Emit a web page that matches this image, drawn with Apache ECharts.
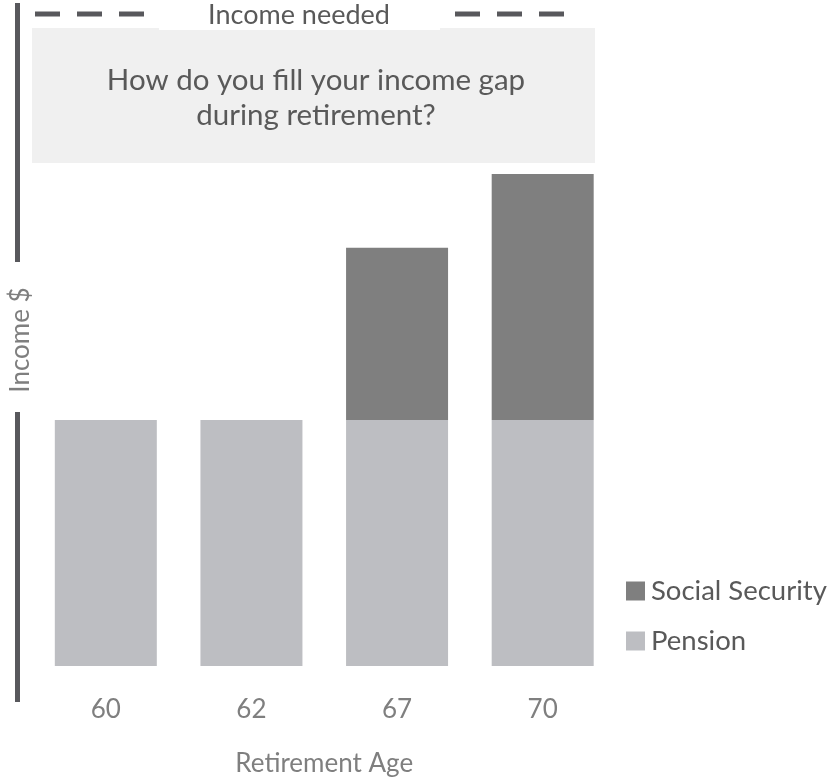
<!DOCTYPE html>
<html>
<head>
<meta charset="utf-8">
<script src="https://cdn.jsdelivr.net/npm/echarts@6/dist/echarts.min.js"></script>
<style>
html,body{margin:0;padding:0;background:#fff;}
#chart{width:837px;height:782px;}
</style>
</head>
<body>
<div id="chart"></div>
<script>
const categories = ['60', '62', '67', '70'];
const pension = [50, 50, 50, 50];
const socialSecurity = [0, 0, 35, 50];
const incomeNeeded = 132.5;
const titleText = 'How do you fill your income gap\nduring retirement?';
const neededLabel = 'Income needed';

const FONT = 'Lato';
const chart = echarts.init(document.getElementById('chart'), null, {renderer: 'canvas'});

const option = {
  animation: false,
  textStyle: {fontFamily: FONT},
  grid: {left: 17.5, right: 221.5, top: 14, bottom: 113, containLabel: false},
  legend: {
    orient: 'vertical', left: 621, top: 572,
    data: ['Social Security', 'Pension'],
    icon: 'rect', itemWidth: 19, itemHeight: 19, itemGap: 22,
    textStyle: {fontFamily: FONT, fontSize: 27.5, lineHeight: 28, color: '#595959', padding: [0, 0, 0, 1]}
  },
  xAxis: {
    type: 'category', data: categories,
    axisLine: {show: false}, axisTick: {show: false},
    axisLabel: {margin: 31, fontSize: 26, color: '#7f7f7f', fontFamily: FONT},
    name: 'Retirement Age', nameLocation: 'middle', nameGap: 85,
    nameTextStyle: {fontSize: 26, color: '#7f7f7f', fontFamily: FONT}
  },
  yAxis: {
    type: 'value', min: 0, max: incomeNeeded,
    axisLine: {show: false}, axisTick: {show: false}, axisLabel: {show: false},
    splitLine: {show: false},
    name: 'Income $', nameLocation: 'middle', nameRotate: 90, nameGap: -1,
    nameTextStyle: {fontSize: 26, color: '#7f7f7f', fontFamily: FONT}
  },
  series: [
    {name: 'Pension', type: 'bar', stack: 'total', data: pension, barWidth: 102,
     itemStyle: {color: '#bdbec2'}},
    {name: 'Social Security', type: 'bar', stack: 'total', data: socialSecurity, barWidth: 102,
     itemStyle: {color: '#7f7f7f'}}
  ]
};
chart.setOption(option);

const yNeeded = chart.convertToPixel({yAxisIndex: 0}, incomeNeeded);
chart.setOption({
  graphic: [
    {type: 'rect', shape: {x: 32, y: 28, width: 563, height: 135}, style: {fill: '#f0f0f0'}, z: 0},
    {type: 'line', shape: {x1: 35, y1: yNeeded, x2: 565, y2: yNeeded},
     style: {stroke: '#58585c', lineWidth: 5, lineDash: [25, 17]}, z: 1},
    {type: 'rect', shape: {x: 159, y: 0, width: 281, height: 30}, style: {fill: '#ffffff'}, z: 2},
    {type: 'text', x: 299, y: yNeeded + 1, z: 3,
     style: {text: neededLabel, fontFamily: FONT, fontSize: 27, fill: '#595959', align: 'center', verticalAlign: 'middle'}},
    {type: 'text', x: 316, y: 98, z: 3,
     style: {text: titleText, fontFamily: FONT, fontSize: 29.5, lineHeight: 35, fill: '#595959', align: 'center', verticalAlign: 'middle'}},
    {type: 'rect', shape: {x: 15, y: 3, width: 5, height: 259}, style: {fill: '#58585c'}, z: 3},
    {type: 'rect', shape: {x: 15, y: 412, width: 5, height: 290}, style: {fill: '#58585c'}, z: 3}
  ]
});
</script>
</body>
</html>
